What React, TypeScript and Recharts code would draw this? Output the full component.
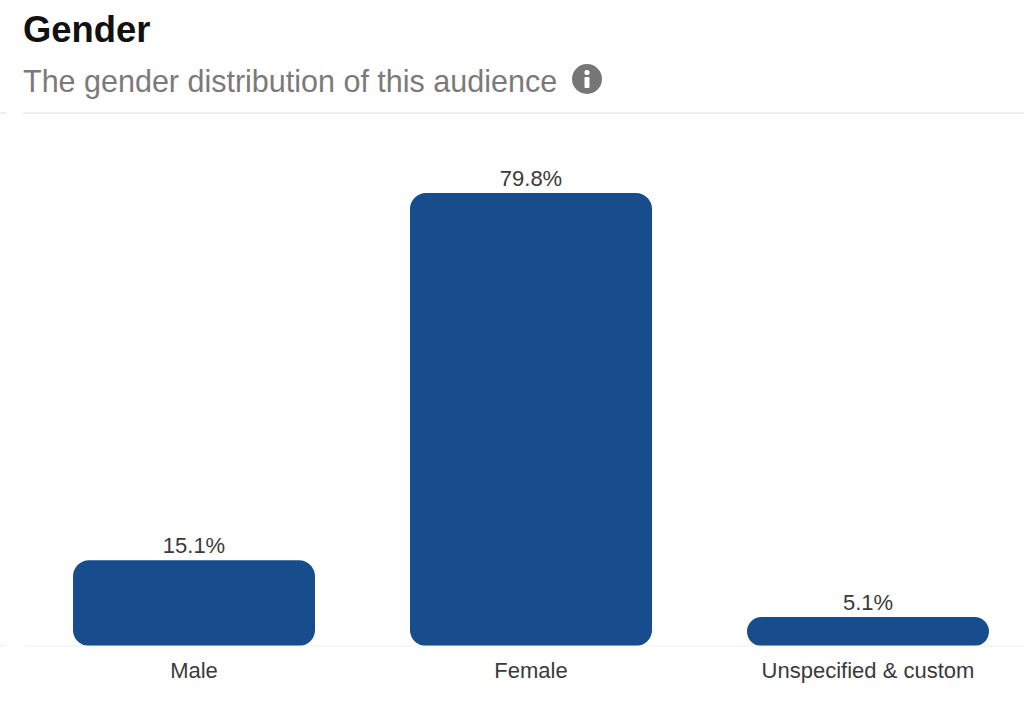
import React from 'react';
import { BarChart, Bar, XAxis, YAxis, LabelList } from 'recharts';

const categories = ['Male', 'Female', 'Unspecified & custom'];
const shares = [15.1, 79.8, 5.1];

const data = categories.map((name, i) => ({ name, share: shares[i] }));

const FONT = '"Liberation Sans", Arial, sans-serif';

const App: React.FC = () => {
  return (
    <div style={{ position: 'fixed', left: 0, top: 0, width: 1024, height: 709, overflow: 'hidden', background: '#fff', fontFamily: FONT }}>
      <div style={{ position: 'absolute', left: 23, top: 9, fontSize: 36.4, fontWeight: 700, color: '#111', lineHeight: '42px' }}>Gender</div>
      <div style={{ position: 'absolute', left: 23, top: 63, fontSize: 30.5, color: '#7a7a7a', lineHeight: '36px', whiteSpace: 'nowrap' }}>
        The gender distribution of this audience
      </div>
      <svg style={{ position: 'absolute', left: 572, top: 64 }} width={30} height={30} viewBox="0 0 30 30">
        <circle cx={15} cy={15} r={15} fill="#767676" />
        <circle cx={15} cy={8.5} r={2.6} fill="#fff" />
        <rect x={12.5} y={13} width={5} height={11} rx={1} fill="#fff" />
      </svg>
      <div style={{ position: 'absolute', left: 0, top: 112, width: 7, height: 2, background: '#efefef' }} />
      <div style={{ position: 'absolute', left: 23, top: 112, width: 1001, height: 2, background: '#efefef' }} />
      <div style={{ position: 'absolute', left: 0, top: 645, width: 6, height: 1, background: '#efefef' }} />
      <BarChart
        width={1036.5}
        height={709}
        data={data}
        margin={{ top: 193, right: 0, bottom: 23, left: 25.5 }}
        barCategoryGap={47.5}
        style={{ position: 'absolute', left: 0, top: 0 }}
      >
        <YAxis hide domain={[0, 79.8]} />
        <XAxis
          dataKey="name"
          height={40}
          interval={0}
          axisLine={{ stroke: '#efefef' }}
          tickLine={false}
          tick={{ fill: '#3a3a3a', fontSize: 22, fontFamily: FONT }}
          tickMargin={10}
        />
        <Bar dataKey="share" fill="#174d8c" radius={16} isAnimationActive={false}>
          <LabelList
            dataKey="share"
            position="top"
            offset={7}
            formatter={(v: any) => `${v}%`}
            fill="#3a3a3a"
            fontSize={22}
            fontFamily={FONT}
          />
        </Bar>
      </BarChart>
    </div>
  );
};

export default App;
